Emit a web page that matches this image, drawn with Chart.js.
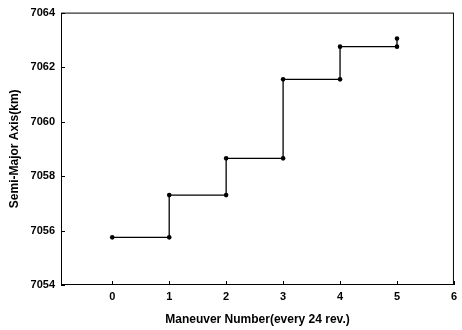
<!DOCTYPE html>
<html>
<head>
<meta charset="utf-8">
<script src="https://cdn.jsdelivr.net/npm/chart.js@4"></script>
<style>
  html, body { margin: 0; padding: 0; background: #fff; }
  #wrap { width: 462px; height: 330px; }
</style>
</head>
<body>
<div id="wrap"><canvas id="smaChart" width="462" height="330"></canvas></div>
<script>
// Maneuver steps (x) and semi-major axis values (km)
const maneuverX = [0, 1, 1, 2, 2, 3, 3, 4, 4, 5, 5];
const semiMajor = [7055.75, 7055.75, 7057.3, 7057.3, 7058.65, 7058.65, 7061.55, 7061.55, 7062.75, 7062.75, 7063.05];
const xTicks = [0, 1, 2, 3, 4, 5, 6];
const yTicks = [7054, 7056, 7058, 7060, 7062, 7064];

const points = maneuverX.map((x, i) => ({ x: x, y: semiMajor[i] }));

// box frame + small inward tick marks
const framePlugin = {
  id: 'frame',
  afterDraw(chart) {
    const { ctx, chartArea: a, scales } = chart;
    ctx.save();
    ctx.strokeStyle = '#000';
    ctx.lineWidth = 1;
    ctx.strokeRect(a.left + 0.5, a.top + 0.5, a.right - a.left - 1, a.bottom - a.top - 1);
    ctx.beginPath();
    xTicks.forEach(v => {
      const px = Math.round(scales.x.getPixelForValue(v)) + 0.5;
      ctx.moveTo(px, a.bottom); ctx.lineTo(px, a.bottom - 4);
    });
    yTicks.forEach(v => {
      const py = Math.round(scales.y.getPixelForValue(v)) + 0.5;
      ctx.moveTo(a.left, py); ctx.lineTo(a.left + 4, py);
    });
    ctx.stroke();
    ctx.restore();
  }
};

const ctx = document.getElementById('smaChart').getContext('2d');
new Chart(ctx, {
  type: 'line',
  data: {
    datasets: [{
      data: points,
      borderColor: '#000',
      borderWidth: 1.3,
      backgroundColor: '#000',
      pointRadius: 2.3,
      pointBackgroundColor: '#000',
      pointBorderWidth: 0,
      tension: 0,
      fill: false
    }]
  },
  options: {
    responsive: false,
    animation: false,
    layout: { padding: { top: 12, right: 3, left: 0, bottom: 0 } },
    plugins: { legend: { display: false }, tooltip: { enabled: false } },
    scales: {
      x: {
        type: 'linear',
        min: -0.9,
        max: 6,
        afterBuildTicks: s => { s.ticks = xTicks.map(v => ({ value: v })); },
        afterFit: s => { s.height = 45; },
        grid: { display: false, drawTicks: false },
        border: { display: false },
        ticks: {
          color: '#000',
          padding: 5,
          callback: v => String(v),
          font: { family: 'Liberation Sans, Arial', size: 11, weight: 'bold' },
          maxRotation: 0
        },
        title: {
          display: true,
          text: 'Maneuver Number(every 24 rev.)',
          color: '#000',
          padding: { top: 0, bottom: 3 },
          font: { family: 'Liberation Sans, Arial', size: 12, weight: 'bold' }
        }
      },
      y: {
        min: 7054,
        max: 7064,
        afterBuildTicks: s => { s.ticks = yTicks.map(v => ({ value: v })); },
        afterFit: s => { s.width = 61; },
        grid: { display: false, drawTicks: false },
        border: { display: false },
        ticks: {
          color: '#000',
          padding: 6,
          callback: v => String(v),
          font: { family: 'Liberation Sans, Arial', size: 11, weight: 'bold' }
        },
        title: {
          display: true,
          text: 'Semi-Major Axis(km)',
          color: '#000',
          padding: { top: 7, bottom: 0 },
          font: { family: 'Liberation Sans, Arial', size: 12, weight: 'bold' }
        }
      }
    }
  },
  plugins: [framePlugin]
});
</script>
</body>
</html>
